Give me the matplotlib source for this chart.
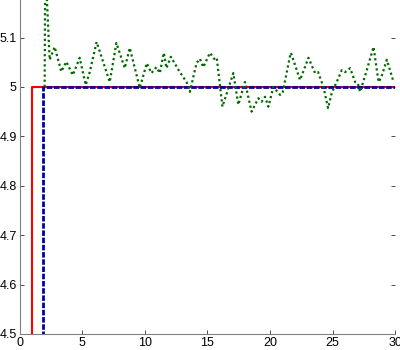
import matplotlib
matplotlib.use("Agg")
import matplotlib.pyplot as plt

# reference step (red)
red_x = [1.0, 1.0, 30.0]
red_y = [4.0, 5.0, 5.0]

# delayed step (blue dashed)
blue_x = [1.9, 1.9, 30.0]
blue_y = [4.0, 5.0, 5.0]

# noisy response (green dotted)
green_x = [2.0, 2.05, 2.4, 2.8, 3.33, 3.73, 4.25, 4.8, 5.28, 5.6, 6.15, 7.2,
           7.73, 8.4, 8.8, 9.6, 10.16, 10.53, 10.93, 11.2, 11.52, 11.73, 12.08,
           12.8, 13.33, 13.6, 14.13, 14.4, 14.67, 15.2, 15.6, 15.75, 16.2, 17.07,
           17.47, 18.0, 18.53, 19.07, 19.33, 19.6, 19.87, 20.27, 20.8, 21.0,
           21.65, 21.73, 22.4, 23.07, 23.6, 23.84, 24.27, 24.64, 24.93, 25.47,
           25.73, 26.0, 26.4, 26.8, 27.0, 27.2, 27.73, 28.27, 28.67, 28.9,
           29.33, 29.87]
green_y = [5.0, 5.25, 5.055, 5.081, 5.031, 5.051, 5.024, 5.059, 5.004, 5.03,
           5.091, 5.01, 5.089, 5.038, 5.079, 4.998, 5.048, 5.028, 5.04, 5.028,
           5.069, 5.038, 5.061, 5.03, 5.01, 4.99, 5.048, 5.057, 5.04, 5.069,
           5.055, 5.058, 4.96, 5.028, 4.964, 5.01, 4.95, 4.977, 4.97, 4.98,
           4.96, 5.0, 4.984, 4.987, 5.069, 5.065, 5.014, 5.059, 5.028, 5.03,
           5.0, 4.957, 4.988, 5.018, 5.034, 5.03, 5.038, 5.01, 5.008, 4.99,
           5.034, 5.081, 5.01, 5.02, 5.055, 5.01]

x_ticks = [0, 5, 10, 15, 20, 25, 30]
y_ticks = [4.5, 4.6, 4.7, 4.8, 4.9, 5.0, 5.1]
y_labels = ["4.5", "4.6", "4.7", "4.8", "4.9", "5", "5.1"]

fig = plt.figure(figsize=(4.0, 3.5), dpi=100)
ax = fig.add_axes([0.049, 0.046, 0.939, 0.954])

ax.plot(red_x, red_y, color="#ff0000", lw=1.5, zorder=2)
ax.plot(blue_x, blue_y, color="#0000a0", lw=2.0, ls=(0, (2.0, 0.6)), zorder=3)
ax.plot(green_x, green_y, color="#006a00", lw=1.6, ls=(0, (1.0, 1.3)), zorder=4)

ax.set_xlim(0, 30)
ax.set_ylim(4.5, 5.176)
ax.set_xticks(x_ticks)
ax.set_xticklabels([str(t) for t in x_ticks])
ax.set_yticks(y_ticks)
ax.set_yticklabels(y_labels)

for s in ["top", "right"]:
    ax.spines[s].set_visible(False)
for s in ["left", "bottom"]:
    ax.spines[s].set_color("#808080")
    ax.spines[s].set_linewidth(0.8)

ax.tick_params(direction="in", length=3, width=0.6, color="#303030",
               labelsize=9, right=True, pad=2)
for lbl in ax.get_xticklabels() + ax.get_yticklabels():
    lbl.set_family("Liberation Sans")

fig.savefig("out.png", dpi=100)
